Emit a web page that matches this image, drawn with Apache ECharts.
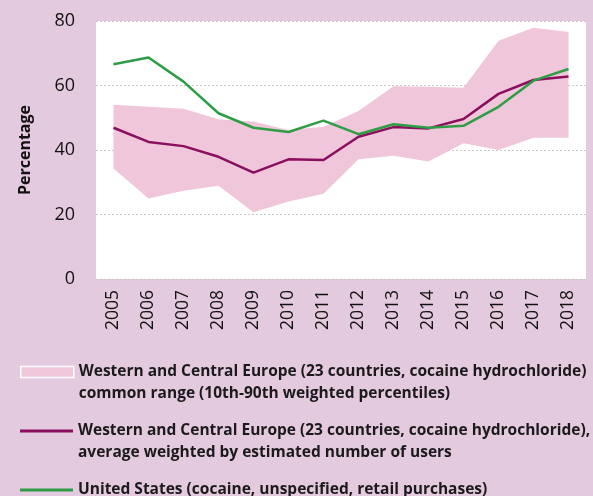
<!DOCTYPE html>
<html>
<head>
<meta charset="utf-8">
<script src="https://cdn.jsdelivr.net/npm/echarts@6/dist/echarts.min.js"></script>
<style>
  html, body { margin: 0; padding: 0; background: #E4CADE; }
  #main { width: 593px; height: 496px; }
</style>
</head>
<body>
<div id="main"></div>
<script>
// years on the x axis
var years = ['2005','2006','2007','2008','2009','2010','2011','2012','2013','2014','2015','2016','2017','2018'];
// Western and Central Europe, 10th-90th weighted percentiles
var bandLow  = [34.3, 25.0, 27.4, 28.9, 20.7, 24.0, 26.4, 37.1, 38.2, 36.4, 42.1, 40.0, 43.8, 43.8];
var bandHigh = [54.0, 53.4, 52.8, 49.5, 48.8, 46.2, 47.2, 52.1, 59.8, 59.6, 59.3, 73.9, 77.9, 76.6];
// Western and Central Europe, weighted average
var europeAvg = [46.9, 42.5, 41.2, 37.9, 33.0, 37.1, 36.9, 44.1, 47.1, 46.7, 49.6, 57.4, 61.7, 62.8];
// United States
var usRetail = [66.6, 68.7, 61.2, 51.4, 46.9, 45.6, 49.1, 44.9, 48.0, 46.9, 47.5, 53.4, 61.5, 65.1];

var yTicks = [0, 20, 40, 60, 80];

var nameBand = 'Western and Central Europe (23 countries, cocaine hydrochloride)\ncommon range (10th-90th weighted percentiles)';
var nameAvg = 'Western and Central Europe (23 countries, cocaine hydrochloride),\naverage weighted by estimated number of users';
var nameUS = 'United States (cocaine, unspecified, retail purchases)';

var bandColor = '#F0C6DA';
var purple = '#8A0F5E';
var green = '#2F9C46';

var spread = bandHigh.map(function (v, i) { return +(v - bandLow[i]).toFixed(1); });

var chart = echarts.init(document.getElementById('main'));

var legendText = {
    fontFamily: 'Open Sans',
    fontWeight: 'bold',
    fontSize: 15.5,
    color: '#1a1a1a',
    lineHeight: 22
};

// blank first line so the icon sits next to the first real line
function twoLine(n) { return ' \n' + n; }

var option = {
    backgroundColor: '#E4CADE',
    animation: false,
    grid: { left: 96, right: 7, top: 21, bottom: 217, containLabel: false, show: true, backgroundColor: '#ffffff', borderWidth: 0 },
    legend: [{
        left: 20, top: 339, padding: 0,
        itemWidth: 53, itemHeight: 11,
        data: [{ name: nameBand, icon: 'rect', itemStyle: { color: bandColor, borderColor: '#ffffff', borderWidth: 1.5 } }],
        formatter: twoLine,
        textStyle: legendText,
        selectedMode: false
    }, {
        left: 20, top: 398, padding: 0,
        itemWidth: 53, itemHeight: 3,
        data: [{ name: nameAvg, icon: 'rect', itemStyle: { color: purple, borderWidth: 0 } }],
        formatter: twoLine,
        textStyle: legendText,
        selectedMode: false
    }, {
        left: 20, top: 479, padding: 0,
        itemWidth: 53, itemHeight: 3,
        data: [{ name: nameUS, icon: 'rect', itemStyle: { color: green, borderWidth: 0 } }],
        textStyle: legendText,
        selectedMode: false
    }],
    xAxis: {
        type: 'category',
        data: years,
        boundaryGap: true,
        axisLine: { show: false },
        axisTick: { show: false },
        axisLabel: { rotate: 90, margin: 11, fontFamily: 'Open Sans', fontSize: 17.5, color: '#111' }
    },
    yAxis: {
        type: 'value',
        min: 0, max: 80, interval: 20,
        name: 'Percentage',
        nameLocation: 'middle',
        nameGap: 63,
        nameTextStyle: { fontFamily: 'Open Sans', fontWeight: 'bold', fontSize: 16, color: '#111' },
        axisLine: { show: false },
        axisTick: { show: false },
        axisLabel: {
            margin: 21, fontFamily: 'Open Sans', fontSize: 18, color: '#111',
            formatter: function (v) { return yTicks.indexOf(v) >= 0 ? String(v) : ''; }
        },
        splitLine: { show: true, lineStyle: { color: '#c8c8c8', type: [2, 2], width: 1 } }
    },
    series: [{
        name: 'low',
        type: 'line',
        stack: 'band',
        data: bandLow,
        symbol: 'none',
        lineStyle: { opacity: 0 },
        areaStyle: { opacity: 0 },
        silent: true
    }, {
        name: nameBand,
        type: 'line',
        stack: 'band',
        data: spread,
        symbol: 'none',
        lineStyle: { opacity: 0 },
        areaStyle: { color: bandColor, opacity: 1 },
        itemStyle: { color: bandColor }
    }, {
        name: nameAvg,
        type: 'line',
        data: europeAvg,
        symbol: 'none',
        lineStyle: { color: purple, width: 2.5 },
        itemStyle: { color: purple },
        z: 3
    }, {
        name: nameUS,
        type: 'line',
        data: usRetail,
        symbol: 'none',
        lineStyle: { color: green, width: 2.5 },
        itemStyle: { color: green },
        z: 4
    }]
};

chart.setOption(option);
</script>
</body>
</html>
